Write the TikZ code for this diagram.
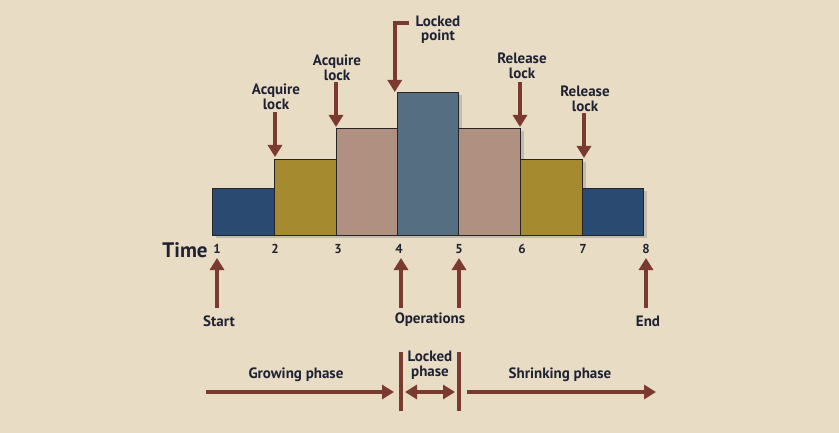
\documentclass[tikz,border=0pt]{standalone}
\usepackage{fontspec}
\setmainfont{PT Sans}
\usetikzlibrary{arrows.meta,shadows}
\definecolor{bg}{HTML}{E8DCC4}
\definecolor{arr}{HTML}{7B3A30}
\definecolor{txt}{HTML}{1F2233}
\definecolor{cblue}{HTML}{2B4A72}
\definecolor{cgold}{HTML}{A68A30}
\definecolor{cpink}{HTML}{B09080}
\definecolor{cslate}{HTML}{566E82}
\begin{document}
\begin{tikzpicture}[x=1pt,y=-1pt,
  bar/.style={draw=black!85,line width=1.1pt,inner sep=0pt,anchor=south west,
    drop shadow={shadow xshift=3pt,shadow yshift=-3pt,opacity=0.35}},
  lbl/.style={font=\bfseries\fontsize{15}{14.5}\selectfont,text=txt,align=center,inner sep=0pt},
  num/.style={font=\bfseries\fontsize{13}{13}\selectfont,text=txt,inner sep=0pt},
  bigarr/.style={draw=arr,line width=4.5pt,-{Triangle[width=14pt,length=12pt]}},
  dblarr/.style={draw=arr,line width=4.5pt,{Triangle[width=14pt,length=12pt]}-{Triangle[width=14pt,length=12pt]}},
  sep/.style={draw=arr,line width=4.5pt}]
\fill[bg] (0,0) rectangle (839,433);
\useasboundingbox (0,0) rectangle (839,433);
% bars (bottom y=236)
\node[bar,fill=cblue,minimum width=62pt,minimum height=47pt] (b1) at (212,236) {};
\node[bar,fill=cgold,minimum width=62pt,minimum height=76pt] (b2) at (274,236) {};
\node[bar,fill=cpink,minimum width=61pt,minimum height=107pt] (b3) at (336,236) {};
\node[bar,fill=cslate,minimum width=61pt,minimum height=143pt] (b4) at (397,236) {};
\node[bar,fill=cpink,minimum width=62pt,minimum height=107pt] (b5) at (458,236) {};
\node[bar,fill=cgold,minimum width=62pt,minimum height=76pt] (b6) at (520,236) {};
\node[bar,fill=cblue,minimum width=61pt,minimum height=47pt] (b7) at (582,236) {};
% time labels
\node[font=\bfseries\fontsize{21}{21}\selectfont,text=txt,inner sep=0pt] (time) at (185,250) {Time};
\foreach \n/\x in {1/217,2/275,3/338,4/399,5/459,6/522,7/583,8/646}{
  \node[num] (t\n) at (\x,249) {\n};
}
% top labels and arrows
\node[lbl] (acq1) at (276,97) {Acquire\\lock};
\coordinate (acq1s) at (275,112);
\coordinate (acq1e) at (275,157);
\draw[bigarr] (acq1s) -- (acq1e);
\node[lbl] (acq2) at (337,68) {Acquire\\lock};
\coordinate (acq2s) at (336,82);
\coordinate (acq2e) at (336,127);
\draw[bigarr] (acq2s) -- (acq2e);
\node[lbl] (lp) at (438,30) {Locked\\point};
\coordinate (lpa) at (409,23);
\coordinate (lpb) at (397,23);
\coordinate (lpe) at (397,92);
\draw[bigarr] (lpa) -- ([xshift=-2.25pt]lpb) -- ([xshift=-2.25pt]lpe);
\node[lbl] (rel1) at (522,66) {Release\\lock};
\coordinate (rel1s) at (520,82);
\coordinate (rel1e) at (520,127);
\draw[bigarr] (rel1s) -- (rel1e);
\node[lbl] (rel2) at (585,99) {Release\\lock};
\coordinate (rel2s) at (584,113);
\coordinate (rel2e) at (584,158);
\draw[bigarr] (rel2s) -- (rel2e);
% bottom up arrows
\node[lbl] (start) at (219,321) {Start};
\node[lbl] (ops) at (430,320) {Operations};
\node[lbl] (end) at (648,321) {End};
\coordinate (s1) at (217,308); \coordinate (s2) at (217,258);
\coordinate (o1) at (401,308); \coordinate (o2) at (401,258);
\coordinate (p1) at (459,308); \coordinate (p2) at (459,258);
\coordinate (e1) at (646,308); \coordinate (e2) at (646,258);
\draw[bigarr] (s1) -- (s2);
\draw[bigarr] (o1) -- (o2);
\draw[bigarr] (p1) -- (p2);
\draw[bigarr] (e1) -- (e2);
% phases
\node[lbl] (grow) at (296,375) {Growing phase};
\node[lbl] (lph) at (430,365) {Locked\\phase};
\node[lbl] (shr) at (560,375) {Shrinking phase};
\coordinate (g1) at (206,392); \coordinate (g2) at (394,392);
\coordinate (v1a) at (401,352); \coordinate (v1b) at (401,411);
\coordinate (v2a) at (459,352); \coordinate (v2b) at (459,411);
\coordinate (d1) at (405,392); \coordinate (d2) at (455,392);
\coordinate (h1) at (467,392); \coordinate (h2) at (656,392);
\draw[bigarr] (g1) -- (g2);
\draw[sep] (v1a) -- (v1b);
\draw[sep] (v2a) -- (v2b);
\draw[dblarr] (d1) -- (d2);
\draw[bigarr] (h1) -- (h2);
\end{tikzpicture}
\end{document}
